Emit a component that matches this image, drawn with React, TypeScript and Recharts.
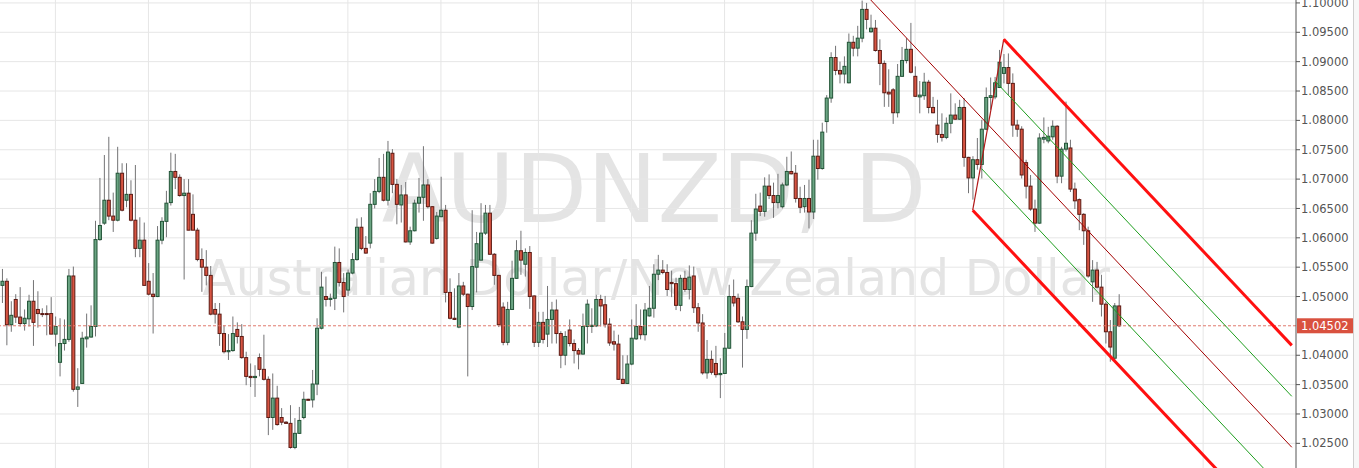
import React from 'react'
import {
  ComposedChart,
  Bar,
  XAxis,
  YAxis,
  CartesianGrid,
  ReferenceLine,
} from 'recharts'

// AUDNZD daily candles (oldest first)
const OPEN = [
  1.0519, 1.0526, 1.0452, 1.0495, 1.0465, 1.0454, 1.0462, 1.0492, 1.0478, 1.0471,
  1.0471, 1.0471, 1.0436, 1.0388, 1.0420, 1.0427, 1.0535, 1.0342, 1.0352, 1.0428,
  1.0431, 1.0449, 1.0597, 1.0625, 1.0664, 1.0637, 1.0630, 1.0710, 1.0664, 1.0674,
  1.0630, 1.0582, 1.0596, 1.0526, 1.0504, 1.0500, 1.0596, 1.0628, 1.0660, 1.0713,
  1.0703, 1.0672, 1.0676, 1.0640, 1.0613, 1.0563, 1.0550, 1.0536, 1.0478, 1.0470,
  1.0437, 1.0406, 1.0408, 1.0444, 1.0432, 1.0396, 1.0364, 1.0362, 1.0396, 1.0376,
  1.0359, 1.0294, 1.0327, 1.0294, 1.0286, 1.0284, 1.0243, 1.0267, 1.0294, 1.0325,
  1.0324, 1.0351, 1.0446, 1.0500, 1.0495, 1.0497, 1.0558, 1.0524, 1.0511, 1.0540,
  1.0563, 1.0618, 1.0582, 1.0591, 1.0657, 1.0679, 1.0703, 1.0664, 1.0744, 1.0691,
  1.0656, 1.0673, 1.0593, 1.0612, 1.0659, 1.0669, 1.0690, 1.0653, 1.0599, 1.0636,
  1.0647, 1.0507, 1.0463, 1.0448, 1.0518, 1.0504, 1.0483, 1.0550, 1.0562, 1.0608,
  1.0642, 1.0572, 1.0536, 1.0482, 1.0422, 1.0478, 1.0531, 1.0578, 1.0555, 1.0575,
  1.0501, 1.0422, 1.0456, 1.0436, 1.0461, 1.0477, 1.0437, 1.0400, 1.0443, 1.0420,
  1.0408, 1.0402, 1.0449, 1.0449, 1.0450, 1.0495, 1.0486, 1.0453, 1.0423, 1.0419,
  1.0359, 1.0352, 1.0385, 1.0428, 1.0449, 1.0435, 1.0467, 1.0480, 1.0538, 1.0545,
  1.0541, 1.0524, 1.0522, 1.0485, 1.0531, 1.0512, 1.0535, 1.0481, 1.0455, 1.0370,
  1.0393, 1.0386, 1.0367, 1.0369, 1.0412, 1.0500, 1.0497, 1.0457, 1.0444, 1.0517,
  1.0608, 1.0654, 1.0645, 1.0688, 1.0672, 1.0660, 1.0653, 1.0690, 1.0713, 1.0710,
  1.0667, 1.0653, 1.0667, 1.0644, 1.0739, 1.0718, 1.0798, 1.0838, 1.0907, 1.0885,
  1.0879, 1.0864, 1.0933, 1.0923, 1.0940, 1.0989, 1.0951, 1.0957, 1.0919, 1.0897,
  1.0848, 1.0852, 1.0813, 1.0875, 1.0902, 1.0921, 1.0875, 1.0840, 1.0842, 1.0865,
  1.0822, 1.0792, 1.0776, 1.0771, 1.0795, 1.0809, 1.0802, 1.0822, 1.0737, 1.0702,
  1.0733, 1.0725, 1.0785, 1.0839, 1.0840, 1.0856, 1.0880, 1.0890, 1.0863, 1.0792,
  1.0785, 1.0728, 1.0688, 1.0649, 1.0625, 1.0768, 1.0765, 1.0772, 1.0790, 1.0705,
  1.0751, 1.0753, 1.0683, 1.0665, 1.0640, 1.0612, 1.0525, 1.0545, 1.0516, 1.0487,
  1.0440, 1.0395, 1.0484,
]

const HIGH = [
  1.0547, 1.0531, 1.0492, 1.0504, 1.0516, 1.0478, 1.0503, 1.0528, 1.0509, 1.0480,
  1.0485, 1.0499, 1.0466, 1.0463, 1.0461, 1.0547, 1.0551, 1.0378, 1.0440, 1.0471,
  1.0485, 1.0629, 1.0702, 1.0741, 1.0772, 1.0677, 1.0755, 1.0727, 1.0727, 1.0698,
  1.0724, 1.0635, 1.0626, 1.0557, 1.0540, 1.0620, 1.0635, 1.0680, 1.0745, 1.0743,
  1.0708, 1.0700, 1.0700, 1.0674, 1.0617, 1.0582, 1.0579, 1.0552, 1.0489, 1.0489,
  1.0451, 1.0436, 1.0466, 1.0456, 1.0453, 1.0406, 1.0386, 1.0383, 1.0403, 1.0435,
  1.0364, 1.0369, 1.0348, 1.0310, 1.0288, 1.0315, 1.0293, 1.0312, 1.0338, 1.0326,
  1.0375, 1.0463, 1.0542, 1.0534, 1.0505, 1.0585, 1.0582, 1.0540, 1.0546, 1.0574,
  1.0633, 1.0635, 1.0603, 1.0676, 1.0700, 1.0736, 1.0743, 1.0765, 1.0751, 1.0700,
  1.0690, 1.0695, 1.0619, 1.0665, 1.0702, 1.0756, 1.0700, 1.0654, 1.0644, 1.0704,
  1.0656, 1.0531, 1.0514, 1.0540, 1.0525, 1.0505, 1.0647, 1.0610, 1.0659, 1.0656,
  1.0656, 1.0574, 1.0537, 1.0490, 1.0491, 1.0561, 1.0596, 1.0612, 1.0582, 1.0586,
  1.0502, 1.0474, 1.0474, 1.0518, 1.0491, 1.0495, 1.0441, 1.0441, 1.0461, 1.0427,
  1.0412, 1.0471, 1.0495, 1.0480, 1.0503, 1.0503, 1.0501, 1.0463, 1.0442, 1.0435,
  1.0400, 1.0400, 1.0461, 1.0487, 1.0478, 1.0489, 1.0518, 1.0555, 1.0571, 1.0562,
  1.0555, 1.0544, 1.0532, 1.0537, 1.0544, 1.0553, 1.0551, 1.0489, 1.0470, 1.0426,
  1.0408, 1.0416, 1.0395, 1.0438, 1.0520, 1.0529, 1.0505, 1.0466, 1.0529, 1.0630,
  1.0675, 1.0677, 1.0703, 1.0708, 1.0694, 1.0709, 1.0694, 1.0738, 1.0747, 1.0724,
  1.0687, 1.0690, 1.0699, 1.0767, 1.0767, 1.0796, 1.0843, 1.0916, 1.0927, 1.0900,
  1.0909, 1.0948, 1.0944, 1.0961, 1.1004, 1.1000, 1.0980, 1.0971, 1.0938, 1.0902,
  1.0887, 1.0855, 1.0896, 1.0925, 1.0940, 1.0966, 1.0892, 1.0867, 1.0881, 1.0869,
  1.0840, 1.0835, 1.0812, 1.0805, 1.0846, 1.0829, 1.0835, 1.0838, 1.0738, 1.0739,
  1.0770, 1.0801, 1.0856, 1.0873, 1.0874, 1.0920, 1.0913, 1.0914, 1.0880, 1.0801,
  1.0790, 1.0733, 1.0707, 1.0665, 1.0778, 1.0805, 1.0789, 1.0800, 1.0792, 1.0755,
  1.0832, 1.0767, 1.0694, 1.0667, 1.0642, 1.0619, 1.0562, 1.0559, 1.0537, 1.0491,
  1.0460, 1.0489, 1.0504,
]

const LOW = [
  1.0489, 1.0417, 1.0440, 1.0455, 1.0449, 1.0442, 1.0449, 1.0416, 1.0447, 1.0465,
  1.0434, 1.0436, 1.0415, 1.0364, 1.0408, 1.0423, 1.0338, 1.0312, 1.0352, 1.0413,
  1.0430, 1.0432, 1.0595, 1.0622, 1.0630, 1.0610, 1.0628, 1.0645, 1.0652, 1.0628,
  1.0567, 1.0567, 1.0519, 1.0502, 1.0437, 1.0499, 1.0589, 1.0601, 1.0655, 1.0683,
  1.0670, 1.0529, 1.0613, 1.0613, 1.0560, 1.0508, 1.0519, 1.0468, 1.0454, 1.0416,
  1.0403, 1.0392, 1.0406, 1.0420, 1.0394, 1.0349, 1.0346, 1.0329, 1.0364, 1.0357,
  1.0264, 1.0273, 1.0280, 1.0281, 1.0283, 1.0241, 1.0240, 1.0266, 1.0291, 1.0323,
  1.0311, 1.0332, 1.0444, 1.0483, 1.0483, 1.0477, 1.0517, 1.0473, 1.0501, 1.0538,
  1.0561, 1.0579, 1.0573, 1.0582, 1.0650, 1.0676, 1.0662, 1.0655, 1.0676, 1.0623,
  1.0626, 1.0592, 1.0588, 1.0611, 1.0643, 1.0629, 1.0650, 1.0590, 1.0597, 1.0635,
  1.0490, 1.0461, 1.0460, 1.0446, 1.0501, 1.0364, 1.0477, 1.0507, 1.0561, 1.0605,
  1.0571, 1.0520, 1.0448, 1.0417, 1.0417, 1.0477, 1.0530, 1.0537, 1.0534, 1.0479,
  1.0414, 1.0414, 1.0420, 1.0414, 1.0420, 1.0420, 1.0378, 1.0383, 1.0415, 1.0386,
  1.0376, 1.0401, 1.0420, 1.0438, 1.0448, 1.0449, 1.0447, 1.0416, 1.0408, 1.0358,
  1.0351, 1.0351, 1.0383, 1.0426, 1.0427, 1.0425, 1.0466, 1.0464, 1.0528, 1.0538,
  1.0501, 1.0499, 1.0477, 1.0475, 1.0508, 1.0495, 1.0472, 1.0440, 1.0367, 1.0360,
  1.0367, 1.0362, 1.0327, 1.0368, 1.0411, 1.0483, 1.0455, 1.0379, 1.0428, 1.0516,
  1.0595, 1.0637, 1.0636, 1.0666, 1.0634, 1.0650, 1.0650, 1.0688, 1.0708, 1.0660,
  1.0642, 1.0643, 1.0616, 1.0632, 1.0699, 1.0716, 1.0779, 1.0830, 1.0877, 1.0863,
  1.0863, 1.0863, 1.0909, 1.0909, 1.0933, 1.0955, 1.0949, 1.0917, 1.0860, 1.0823,
  1.0823, 1.0794, 1.0805, 1.0874, 1.0897, 1.0880, 1.0840, 1.0812, 1.0835, 1.0812,
  1.0812, 1.0762, 1.0764, 1.0768, 1.0778, 1.0801, 1.0801, 1.0721, 1.0676, 1.0665,
  1.0716, 1.0701, 1.0784, 1.0818, 1.0836, 1.0855, 1.0863, 1.0843, 1.0772, 1.0772,
  1.0701, 1.0667, 1.0646, 1.0610, 1.0624, 1.0761, 1.0761, 1.0767, 1.0693, 1.0693,
  1.0747, 1.0678, 1.0649, 1.0613, 1.0588, 1.0532, 1.0491, 1.0514, 1.0466, 1.0420,
  1.0389, 1.0392, 1.0448,
]

const CLOSE = [
  1.0526, 1.0452, 1.0468, 1.0465, 1.0454, 1.0463, 1.0492, 1.0456, 1.0471, 1.0470,
  1.0470, 1.0436, 1.0449, 1.0420, 1.0427, 1.0535, 1.0342, 1.0346, 1.0429, 1.0431,
  1.0449, 1.0597, 1.0621, 1.0664, 1.0637, 1.0630, 1.0710, 1.0647, 1.0674, 1.0630,
  1.0582, 1.0596, 1.0519, 1.0504, 1.0500, 1.0596, 1.0628, 1.0659, 1.0713, 1.0703,
  1.0672, 1.0676, 1.0613, 1.0613, 1.0563, 1.0550, 1.0536, 1.0470, 1.0470, 1.0437,
  1.0406, 1.0408, 1.0437, 1.0432, 1.0396, 1.0364, 1.0362, 1.0364, 1.0376, 1.0359,
  1.0294, 1.0327, 1.0282, 1.0286, 1.0284, 1.0243, 1.0267, 1.0289, 1.0325, 1.0324,
  1.0351, 1.0446, 1.0516, 1.0495, 1.0497, 1.0558, 1.0524, 1.0500, 1.0540, 1.0563,
  1.0618, 1.0582, 1.0574, 1.0657, 1.0679, 1.0703, 1.0664, 1.0746, 1.0691, 1.0657,
  1.0673, 1.0593, 1.0612, 1.0659, 1.0669, 1.0690, 1.0653, 1.0591, 1.0637, 1.0647,
  1.0507, 1.0463, 1.0461, 1.0518, 1.0504, 1.0483, 1.0551, 1.0590, 1.0608, 1.0642,
  1.0572, 1.0536, 1.0452, 1.0422, 1.0478, 1.0531, 1.0578, 1.0562, 1.0575, 1.0500,
  1.0422, 1.0456, 1.0427, 1.0461, 1.0477, 1.0437, 1.0400, 1.0432, 1.0420, 1.0408,
  1.0402, 1.0449, 1.0487, 1.0451, 1.0495, 1.0484, 1.0453, 1.0421, 1.0419, 1.0359,
  1.0352, 1.0385, 1.0429, 1.0449, 1.0435, 1.0477, 1.0480, 1.0538, 1.0545, 1.0541,
  1.0512, 1.0522, 1.0485, 1.0531, 1.0512, 1.0533, 1.0481, 1.0455, 1.0370, 1.0393,
  1.0371, 1.0367, 1.0369, 1.0412, 1.0500, 1.0489, 1.0457, 1.0444, 1.0517, 1.0608,
  1.0649, 1.0645, 1.0688, 1.0672, 1.0660, 1.0672, 1.0690, 1.0713, 1.0709, 1.0667,
  1.0652, 1.0667, 1.0644, 1.0739, 1.0718, 1.0780, 1.0838, 1.0907, 1.0885, 1.0879,
  1.0892, 1.0933, 1.0923, 1.0940, 1.0989, 1.0972, 1.0957, 1.0919, 1.0897, 1.0847,
  1.0845, 1.0813, 1.0875, 1.0902, 1.0921, 1.0882, 1.0841, 1.0843, 1.0865, 1.0822,
  1.0813, 1.0776, 1.0771, 1.0795, 1.0809, 1.0802, 1.0822, 1.0737, 1.0702, 1.0733,
  1.0725, 1.0785, 1.0839, 1.0842, 1.0864, 1.0899, 1.0890, 1.0863, 1.0792, 1.0785,
  1.0707, 1.0688, 1.0649, 1.0625, 1.0770, 1.0771, 1.0773, 1.0790, 1.0705, 1.0751,
  1.0761, 1.0683, 1.0663, 1.0640, 1.0612, 1.0535, 1.0545, 1.0516, 1.0487, 1.0440,
  1.0414, 1.0484, 1.04502,
]

// bar slots on the time axis (candles + empty space to the right)
const SLOTS = 292
// bar index where each month starts (vertical grid)
const MONTH_TICKS = [12, 33, 56, 78, 99, 121, 142, 163, 183, 206, 226, 249, 271]
const PRICE_TICKS = [
  1.025, 1.03, 1.035, 1.04, 1.05, 1.055, 1.06, 1.065, 1.07, 1.075, 1.08, 1.085,
  1.09, 1.095, 1.1,
]

// pitchfork anchors: handle, swing high, swing low (bar index, price)
const PF_HANDLE = { i: 194, p: 1.1021 }
const PF_HIGH = { i: 226, p: 1.0938 }
const PF_LOW = { i: 219, p: 1.0647 }

const FONT = '"DejaVu Sans", Verdana, sans-serif'
const UP = '#6ba583'
const UP_BORDER = '#225437'
const DOWN = '#d75442'
const DOWN_BORDER = '#5b1a13'
const WICK = '#737375'

const rows = Array.from({ length: SLOTS }, (_, i) =>
  i < OPEN.length
    ? {
        i,
        open: OPEN[i],
        high: HIGH[i],
        low: LOW[i],
        close: CLOSE[i],
        range: [LOW[i], HIGH[i]],
      }
    : { i, range: null }
)

const LAST = SLOTS - 1
const lastClose = CLOSE[CLOSE.length - 1]

const mid = { i: (PF_HIGH.i + PF_LOW.i) / 2, p: (PF_HIGH.p + PF_LOW.p) / 2 }
const slope = (mid.p - PF_HANDLE.p) / (mid.i - PF_HANDLE.i)
const onHandle = (t: number) => ({
  i: PF_HIGH.i + (PF_LOW.i - PF_HIGH.i) * t,
  p: PF_HIGH.p + (PF_LOW.p - PF_HIGH.p) * t,
})
const ray = (a: { i: number; p: number }) => {
  const s = Math.round(a.i)
  return [
    { x: s, y: a.p + slope * (s - a.i) },
    { x: LAST, y: a.p + slope * (LAST - a.i) },
  ]
}

function Candle(props: any) {
  const { x, y, width, height, payload } = props
  if (!payload || payload.open == null || height == null) return null
  const { open, high, low, close } = payload
  const cx = x + width / 2
  const k = high > low ? height / (high - low) : 0
  const py = (v: number) => y + (high - v) * k
  const up = close >= open
  const top = py(Math.max(open, close))
  const bot = py(Math.min(open, close))
  return (
    <g>
      <line x1={cx} x2={cx} y1={y} y2={y + height} stroke={WICK} strokeWidth={1} />
      <rect
        x={cx - 1.5}
        y={top}
        width={3}
        height={Math.max(bot - top, 1)}
        fill={up ? UP : DOWN}
        stroke={up ? UP_BORDER : DOWN_BORDER}
        strokeWidth={1}
      />
    </g>
  )
}

function PriceTag(props: any) {
  const { viewBox } = props
  if (!viewBox) return null
  const x = viewBox.x + viewBox.width
  const y = viewBox.y
  return (
    <g>
      <rect x={x + 1} y={y - 7.5} width={56} height={15} fill="#d9513f" />
      <text
        x={x + 5}
        y={y}
        dy="0.36em"
        fill="#ffffff"
        fontSize={11.5}
        fontFamily={FONT}
      >
        {lastClose.toFixed(5)}
      </text>
    </g>
  )
}

export default function App() {
  const upperGreen = onHandle(0.25)
  const lowerGreen = onHandle(0.75)

  return (
    <div
      style={{
        position: 'absolute',
        left: 0,
        top: 0,
        width: 1359,
        height: 468,
        background: '#ffffff',
        overflow: 'hidden',
      }}
    >
      <svg width={1296} height={468} style={{ position: 'absolute', left: 0, top: 0 }}>
        <text
          x={654}
          y={222}
          textAnchor="middle"
          fontSize={94}
          fontFamily={FONT}
          fill="#e4e4e4"
        >
          AUDNZD, D
        </text>
        <text
          x={656}
          y={295}
          textAnchor="middle"
          fontSize={49}
          fontFamily={FONT}
          fill="#e4e4e4"
        >
          Australian Dollar/New Zealand Dollar
        </text>
      </svg>

      <div style={{ position: 'absolute', left: 0, top: 0 }}>
        <ComposedChart
          width={1353}
          height={468}
          data={rows}
          margin={{ top: 0, right: 0, bottom: 0, left: 0 }}
        >
          <CartesianGrid stroke="#e6e6e6" syncWithTicks />
          <XAxis
            dataKey="i"
            type="category"
            ticks={MONTH_TICKS}
            padding={{ left: 0, right: 2 }}
            hide
          />
          <YAxis
            orientation="right"
            type="number"
            domain={[1.0208, 1.1005]}
            allowDataOverflow
            ticks={PRICE_TICKS}
            interval={0}
            tickFormatter={(v: number) => v.toFixed(5)}
            width={57}
            tickSize={4}
            tickMargin={1}
            axisLine={{ stroke: '#555555' }}
            tickLine={{ stroke: '#555555' }}
            tick={{ fill: '#555555', fontSize: 11.5, fontFamily: FONT }}
          />
          <ReferenceLine
            y={lastClose}
            stroke="#e07a6e"
            strokeDasharray="3 2"
            label={<PriceTag />}
          />
          <Bar dataKey="range" shape={<Candle />} isAnimationActive={false} />

          {/* pitchfork */}
          <ReferenceLine
            segment={ray(PF_HANDLE)}
            stroke="#a30000"
            strokeWidth={1}
            ifOverflow="hidden"
          />
          <ReferenceLine
            segment={[
              { x: PF_LOW.i, y: PF_LOW.p },
              { x: PF_HIGH.i, y: PF_HIGH.p },
            ]}
            stroke="#b01818"
            strokeWidth={1.2}
            ifOverflow="hidden"
          />
          <ReferenceLine segment={ray(upperGreen)} stroke="#1e9e1e" strokeWidth={1} ifOverflow="hidden" />
          <ReferenceLine segment={ray(lowerGreen)} stroke="#1e9e1e" strokeWidth={1} ifOverflow="hidden" />
          <ReferenceLine segment={ray(PF_HIGH)} stroke="#ff1010" strokeWidth={3} ifOverflow="hidden" />
          <ReferenceLine segment={ray(PF_LOW)} stroke="#ff1010" strokeWidth={3} ifOverflow="hidden" />
        </ComposedChart>
      </div>

      <div
        style={{
          position: 'absolute',
          left: 1353,
          top: 0,
          width: 6,
          height: 468,
          borderLeft: '1px solid #cfcfcf',
          background: '#f7f7f7',
        }}
      />
    </div>
  )
}
